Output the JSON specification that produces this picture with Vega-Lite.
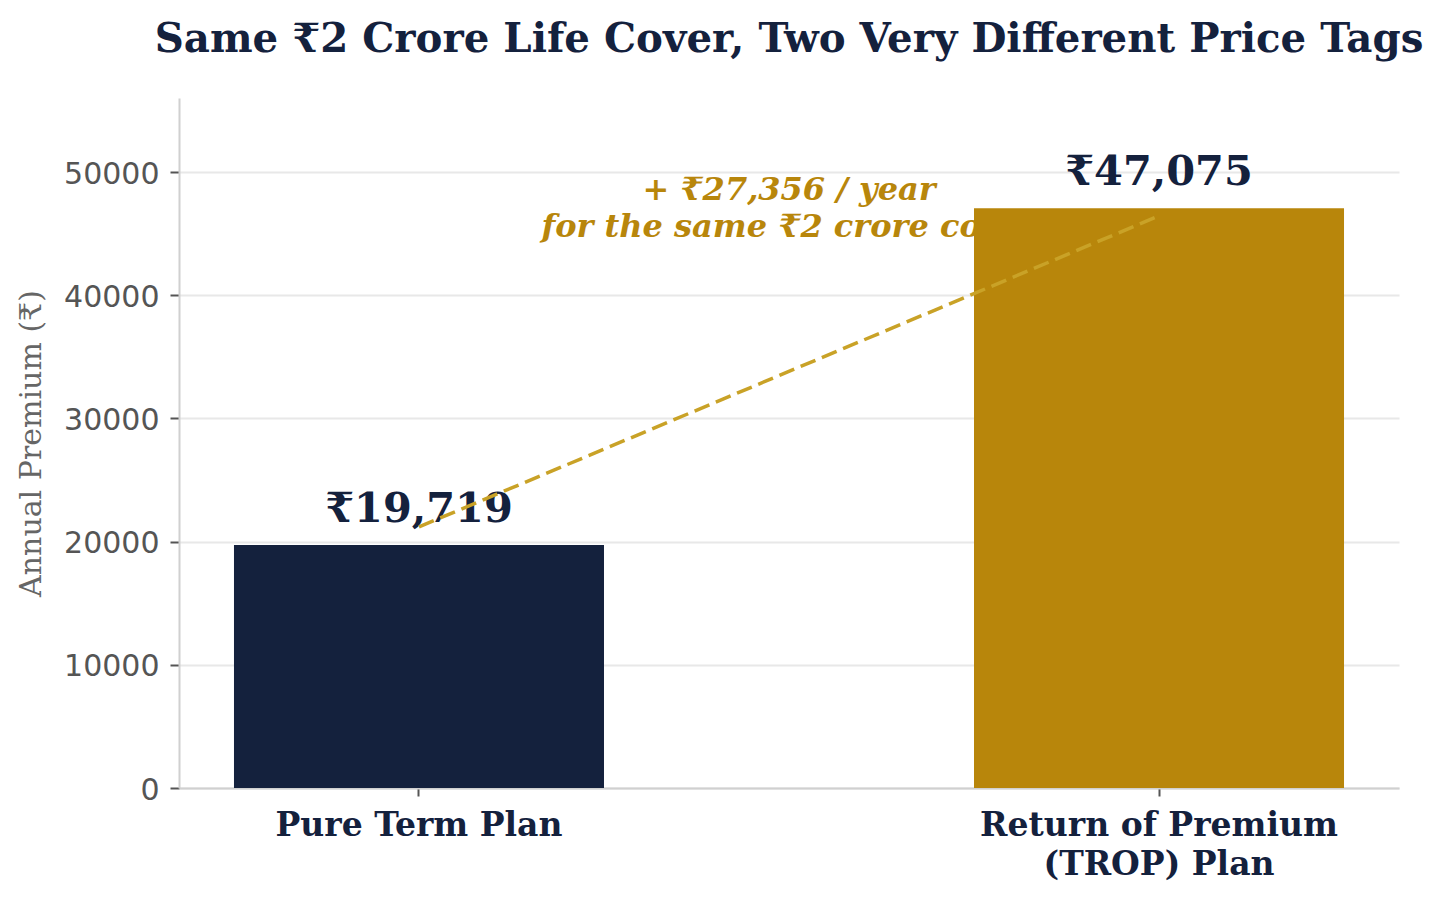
{
  "$schema": "https://vega.github.io/schema/vega-lite/v6.json",
  "width": 1220,
  "height": 690,
  "autosize": "none",
  "padding": {"left": 179, "top": 98, "right": 44, "bottom": 111},
  "background": "white",
  "config": {
    "view": {"stroke": null},
    "axis": {"grid": false}
  },
  "title": {
    "text": "Same ₹2 Crore Life Cover, Two Very Different Price Tags",
    "font": "DejaVu Serif",
    "fontSize": 40.3,
    "fontWeight": "bold",
    "color": "#14213D",
    "anchor": "middle",
    "offset": 38
  },
  "datasets": {
    "plans": [
      {"plan": "Pure Term Plan", "premium": 19719, "label": "₹19,719"},
      {"plan": "Return of Premium\n(TROP) Plan", "premium": 47075, "label": "₹47,075"}
    ],
    "gap": [
      {"plan": "Pure Term Plan", "y": 21200},
      {"plan": "Return of Premium\n(TROP) Plan", "y": 46450}
    ],
    "note": [
      {"plan": "Pure Term Plan", "y": 47075, "text": "+ ₹27,356 / year\nfor the same ₹2 crore cover"}
    ]
  },
  "encoding": {
    "x": {
      "field": "plan",
      "type": "nominal",
      "sort": null,
      "scale": {
        "domain": ["Pure Term Plan", "Return of Premium\n(TROP) Plan"],
        "paddingInner": 0.5,
        "paddingOuter": 0.0743
      },
      "axis": {
        "title": null,
        "labelAngle": 0,
        "labelLimit": 0,
        "labelExpr": "split(datum.label, '\\n')",
        "labelFont": "DejaVu Serif",
        "labelFontWeight": "bold",
        "labelFontSize": 33,
        "labelColor": "#14213D",
        "labelLineHeight": 39,
        "labelPadding": 13,
        "domainColor": "#d0d0d0",
        "domainWidth": 2,
        "tickColor": "#555555",
        "tickWidth": 2,
        "tickSize": 8
      }
    }
  },
  "layer": [
    {
      "data": {"name": "note"},
      "mark": {
        "type": "text",
        "font": "DejaVu Serif",
        "fontSize": 32,
        "fontWeight": "bold",
        "fontStyle": "italic",
        "color": "#B8860B",
        "align": "center",
        "baseline": "middle",
        "lineBreak": "\n",
        "lineHeight": 37,
        "dx": 370,
        "dy": -18
      },
      "encoding": {
        "y": {"field": "y", "type": "quantitative"},
        "text": {"field": "text"}
      }
    },
    {
      "data": {"name": "plans"},
      "mark": {"type": "bar"},
      "encoding": {
        "y": {
          "field": "premium",
          "type": "quantitative",
          "scale": {"domain": [0, 56020], "nice": false},
          "axis": {
            "title": "Annual Premium (₹)",
            "titleFont": "DejaVu Serif",
            "titleFontSize": 30,
            "titleFontWeight": "normal",
            "titleColor": "#666666",
            "titlePadding": 17,
            "values": [0, 10000, 20000, 30000, 40000, 50000],
            "format": "d",
            "labelFont": "DejaVu Sans",
            "labelFontSize": 30,
            "labelColor": "#555555",
            "labelPadding": 11,
            "labelOffset": 2,
            "grid": true,
            "gridColor": "#e8e8e8",
            "gridWidth": 2,
            "domainColor": "#d0d0d0",
            "domainWidth": 2,
            "tickColor": "#555555",
            "tickWidth": 2,
            "tickSize": 9
          }
        },
        "color": {
          "field": "plan",
          "type": "nominal",
          "scale": {
            "domain": ["Pure Term Plan", "Return of Premium\n(TROP) Plan"],
            "range": ["#14213D", "#B8860B"]
          },
          "legend": null
        }
      }
    },
    {
      "data": {"name": "plans"},
      "mark": {
        "type": "text",
        "font": "DejaVu Serif",
        "fontSize": 41.5,
        "fontWeight": "bold",
        "color": "#14213D",
        "baseline": "alphabetic",
        "dy": -23
      },
      "encoding": {
        "y": {"field": "premium", "type": "quantitative"},
        "text": {"field": "label"}
      }
    },
    {
      "data": {"name": "gap"},
      "mark": {
        "type": "line",
        "color": "#C9A227",
        "strokeWidth": 3.5,
        "strokeDash": [16, 7]
      },
      "encoding": {
        "y": {"field": "y", "type": "quantitative"}
      }
    }
  ]
}
